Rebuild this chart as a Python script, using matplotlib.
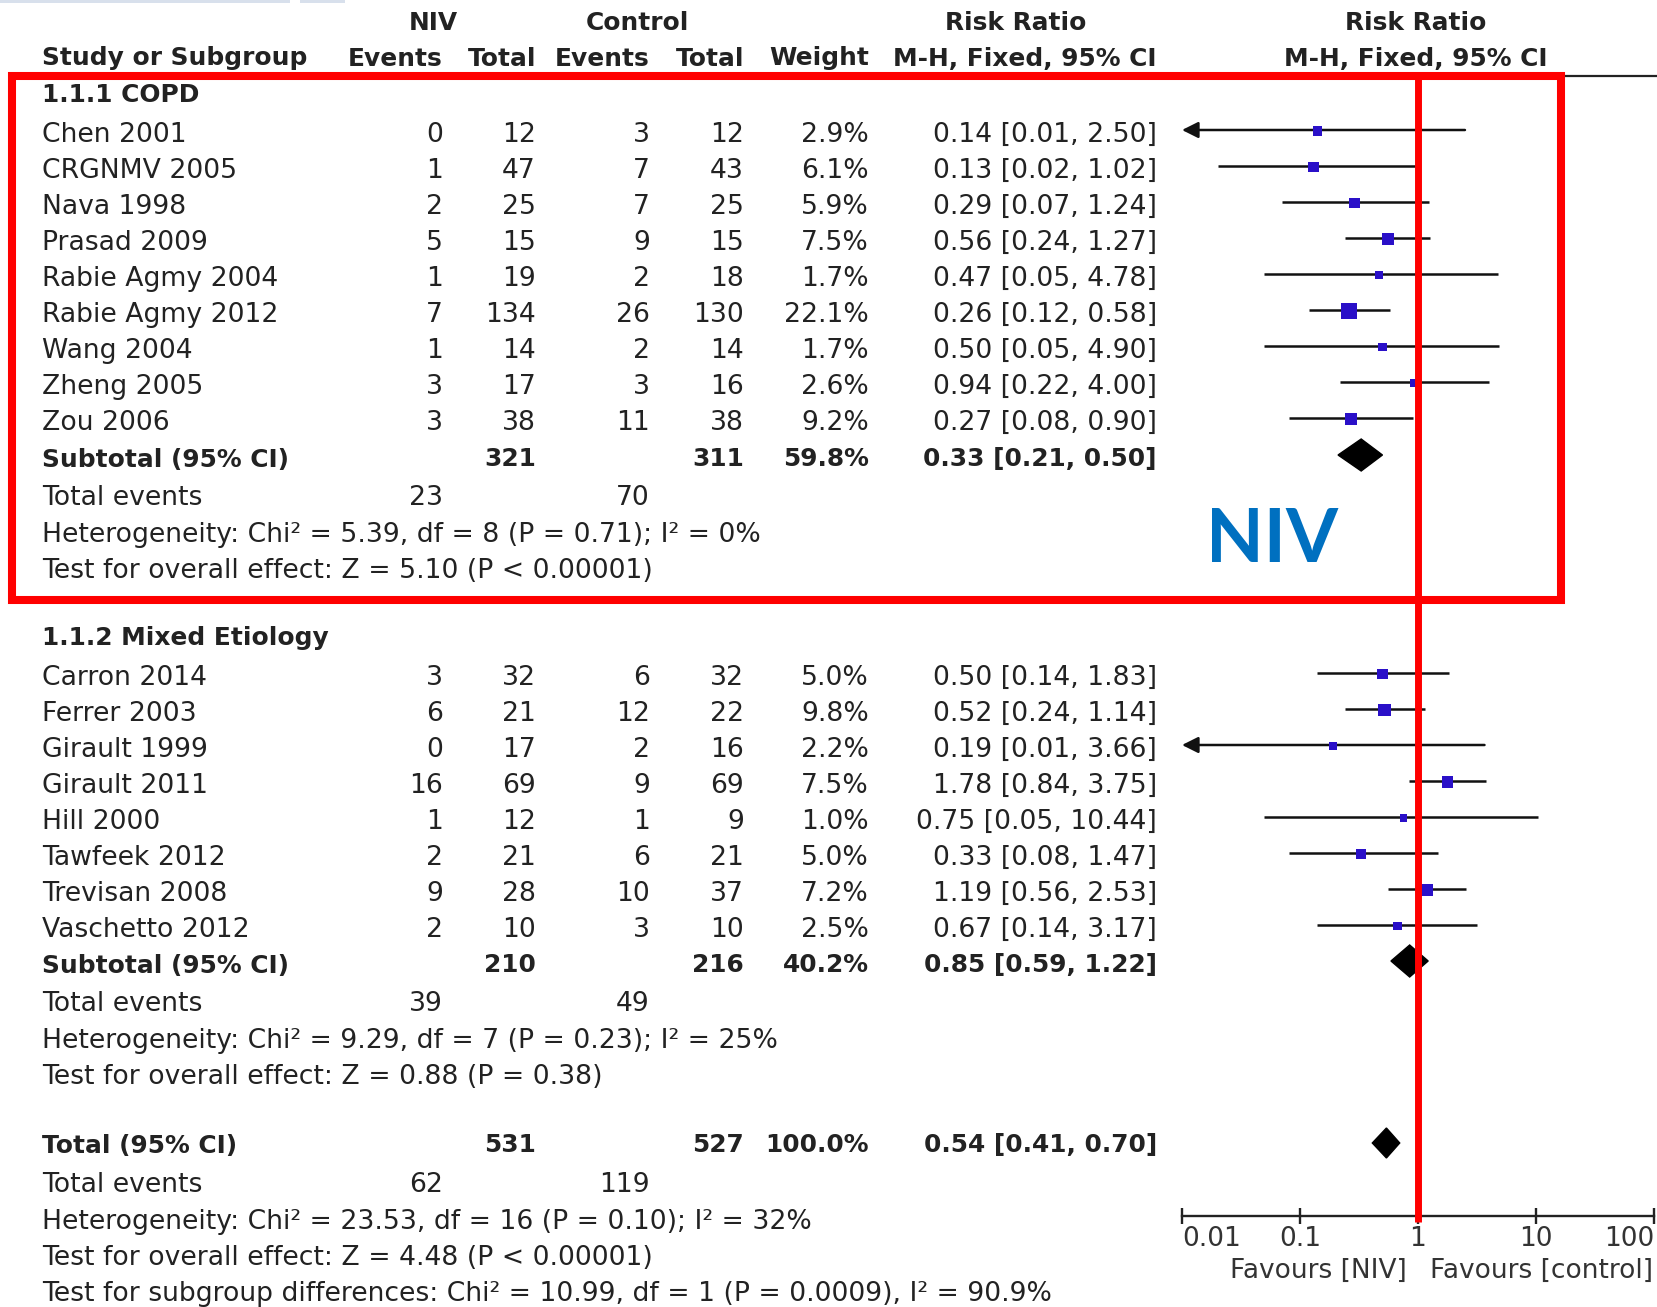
import numpy as np
import matplotlib
matplotlib.use("Agg")
import matplotlib.pyplot as plt
from matplotlib.patches import Polygon, Rectangle

plt.rcParams['font.family'] = ['DejaVu Sans']

# ---- data -------------------------------------------------------------
copd_study = ["Chen 2001", "CRGNMV 2005", "Nava 1998", "Prasad 2009",
              "Rabie Agmy 2004", "Rabie Agmy 2012", "Wang 2004", "Zheng 2005", "Zou 2006"]
copd_niv_ev = [0, 1, 2, 5, 1, 7, 1, 3, 3]
copd_niv_n = [12, 47, 25, 15, 19, 134, 14, 17, 38]
copd_ctl_ev = [3, 7, 7, 9, 2, 26, 2, 3, 11]
copd_ctl_n = [12, 43, 25, 15, 18, 130, 14, 16, 38]
copd_weight = [2.9, 6.1, 5.9, 7.5, 1.7, 22.1, 1.7, 2.6, 9.2]
copd_rr = [0.14, 0.13, 0.29, 0.56, 0.47, 0.26, 0.50, 0.94, 0.27]
copd_lo = [0.01, 0.02, 0.07, 0.24, 0.05, 0.12, 0.05, 0.22, 0.08]
copd_hi = [2.50, 1.02, 1.24, 1.27, 4.78, 0.58, 4.90, 4.00, 0.90]
copd_sub = dict(n1=321, n2=311, w=59.8, rr=0.33, lo=0.21, hi=0.50, e1=23, e2=70)
copd_het = "Heterogeneity: Chi\u00b2 = 5.39, df = 8 (P = 0.71); I\u00b2 = 0%"
copd_test = "Test for overall effect: Z = 5.10 (P < 0.00001)"

mix_study = ["Carron 2014", "Ferrer 2003", "Girault 1999", "Girault 2011",
             "Hill 2000", "Tawfeek 2012", "Trevisan 2008", "Vaschetto 2012"]
mix_niv_ev = [3, 6, 0, 16, 1, 2, 9, 2]
mix_niv_n = [32, 21, 17, 69, 12, 21, 28, 10]
mix_ctl_ev = [6, 12, 2, 9, 1, 6, 10, 3]
mix_ctl_n = [32, 22, 16, 69, 9, 21, 37, 10]
mix_weight = [5.0, 9.8, 2.2, 7.5, 1.0, 5.0, 7.2, 2.5]
mix_rr = [0.50, 0.52, 0.19, 1.78, 0.75, 0.33, 1.19, 0.67]
mix_lo = [0.14, 0.24, 0.01, 0.84, 0.05, 0.08, 0.56, 0.14]
mix_hi = [1.83, 1.14, 3.66, 3.75, 10.44, 1.47, 2.53, 3.17]
mix_sub = dict(n1=210, n2=216, w=40.2, rr=0.85, lo=0.59, hi=1.22, e1=39, e2=49)
mix_het = "Heterogeneity: Chi\u00b2 = 9.29, df = 7 (P = 0.23); I\u00b2 = 25%"
mix_test = "Test for overall effect: Z = 0.88 (P = 0.38)"

tot = dict(n1=531, n2=527, w=100.0, rr=0.54, lo=0.41, hi=0.70, e1=62, e2=119)
tot_het = "Heterogeneity: Chi\u00b2 = 23.53, df = 16 (P = 0.10); I\u00b2 = 32%"
tot_test = "Test for overall effect: Z = 4.48 (P < 0.00001)"
sub_test = "Test for subgroup differences: Chi\u00b2 = 10.99, df = 1 (P = 0.0009), I\u00b2 = 90.9%"

ticks = [0.01, 0.1, 1, 10, 100]
tick_labels = ["0.01", "0.1", "1", "10", "100"]

# ---- layout (pixels) ---------------------------------------------------
W, H = 1658, 1307
FS = 19.2      # regular text
FSB = 17.9     # bold text
TXT = '#222222'
SQ = '#2a10c8'
X_NAME, X_E1, X_N1, X_E2, X_N2, X_W, X_RR = 42, 443, 536, 650, 744, 869, 1157

fig = plt.figure(figsize=(W / 100, H / 100), dpi=100)
ax_t = fig.add_axes([0, 0, 1, 1], zorder=2)
ax_t.set_xlim(0, W)
ax_t.set_ylim(H, 0)
ax_t.axis('off')
ax_t.patch.set_visible(False)

ax_f = fig.add_axes([1182 / W, 0, 472 / W, 1], zorder=1)
ax_f.set_xscale('log')
ax_f.set_xlim(0.01, 100)
ax_f.set_ylim(H, 0)
ax_f.patch.set_visible(False)
for s in ['top', 'left', 'right']:
    ax_f.spines[s].set_visible(False)
ax_f.spines['bottom'].set_position(('data', 1216))
ax_f.spines['bottom'].set_linewidth(1.7)
ax_f.spines['bottom'].set_color('#222222')
ax_f.set_yticks([])
ax_f.set_xticks(ticks)
ax_f.set_xticklabels(tick_labels)
ax_f.minorticks_off()
ax_f.tick_params(axis='x', direction='inout', length=12, width=1.7, pad=1,
                 labelsize=19, labelcolor='#333333', color='#222222')
tl = ax_f.get_xticklabels()
tl[0].set_horizontalalignment('left')
tl[-1].set_horizontalalignment('right')


def put(x, y, s, ha='left', bold=False):
    ax_t.text(x, y + 2, s, ha=ha, va='center_baseline', fontsize=FSB if bold else FS,
              fontweight='bold' if bold else 'normal', color=TXT)


def diamond(y, rr, lo, hi, h):
    ax_f.add_patch(Polygon([(lo, y), (rr, y - h), (hi, y), (rr, y + h)],
                           closed=True, color='black', zorder=4, clip_on=False))


def group(y0, names, e1, n1, e2, n2, w, rr, lo, hi):
    ys = [y0 + 36 * i for i in range(len(names))]
    for y, nm, a, b, c, d, ww, r, l, h in zip(ys, names, e1, n1, e2, n2, w, rr, lo, hi):
        put(X_NAME, y, nm)
        put(X_E1, y, str(a), 'right')
        put(X_N1, y, str(b), 'right')
        put(X_E2, y, str(c), 'right')
        put(X_N2, y, str(d), 'right')
        put(X_W, y, f"{ww:.1f}%", 'right')
        put(X_RR, y, f"{r:.2f} [{l:.2f}, {h:.2f}]", 'right')
        if l <= 0.01:
            ax_f.annotate('', xy=(0.01, y), xytext=(h, y),
                          arrowprops=dict(arrowstyle='-|>,head_length=0.7,head_width=0.35',
                                          color='#111111', lw=1.8, shrinkA=0, shrinkB=0,
                                          mutation_scale=14),
                          annotation_clip=False)
        else:
            ax_f.plot([l, h], [y, y], color='#111111', lw=1.8, solid_capstyle='butt', zorder=2)
    side = [(5 + 2.4 * np.sqrt(v)) * 0.72 for v in w]
    ax_f.scatter(rr, [y + 1 for y in ys], s=[q ** 2 for q in side], marker='s',
                 color=SQ, linewidths=0, zorder=3)


def summary(y, label, d, het, test, foot_y):
    put(X_NAME, y, label, bold=True)
    put(X_N1, y, str(d['n1']), 'right', bold=True)
    put(X_N2, y, str(d['n2']), 'right', bold=True)
    put(X_W, y, f"{d['w']:.1f}%", 'right', bold=True)
    put(X_RR, y, f"{d['rr']:.2f} [{d['lo']:.2f}, {d['hi']:.2f}]", 'right', bold=True)
    diamond(y, d['rr'], d['lo'], d['hi'], 16)
    put(X_NAME, foot_y, "Total events")
    put(X_E1, foot_y, str(d['e1']), 'right')
    put(X_E2, foot_y, str(d['e2']), 'right')
    put(X_NAME, foot_y + 37, het)
    put(X_NAME, foot_y + 73, test)


# headers
put(433, 18, "NIV", 'center', bold=True)
put(637, 18, "Control", 'center', bold=True)
put(1016, 18, "Risk Ratio", 'center', bold=True)
put(1416, 18, "Risk Ratio", 'center', bold=True)
put(X_NAME, 54, "Study or Subgroup", bold=True)
put(X_E1, 54, "Events", 'right', bold=True)
put(X_N1, 54, "Total", 'right', bold=True)
put(X_E2, 54, "Events", 'right', bold=True)
put(X_N2, 54, "Total", 'right', bold=True)
put(X_W, 54, "Weight", 'right', bold=True)
put(X_RR, 54, "M-H, Fixed, 95% CI", 'right', bold=True)
put(1416, 54, "M-H, Fixed, 95% CI", 'center', bold=True)
ax_t.plot([40, W], [76, 76], color='#222222', lw=1.6)

# COPD subgroup
put(X_NAME, 90, "1.1.1 COPD", bold=True)
group(130, copd_study, copd_niv_ev, copd_niv_n, copd_ctl_ev, copd_ctl_n,
      copd_weight, copd_rr, copd_lo, copd_hi)
summary(455, "Subtotal (95% CI)", copd_sub, copd_het, copd_test, 493)

# mixed etiology subgroup
put(X_NAME, 634, "1.1.2 Mixed Etiology", bold=True)
group(673, mix_study, mix_niv_ev, mix_niv_n, mix_ctl_ev, mix_ctl_n,
      mix_weight, mix_rr, mix_lo, mix_hi)
summary(961, "Subtotal (95% CI)", mix_sub, mix_het, mix_test, 999)

# overall
put(X_NAME, 1141, "Total (95% CI)", bold=True)
put(X_N1, 1141, str(tot['n1']), 'right', bold=True)
put(X_N2, 1141, str(tot['n2']), 'right', bold=True)
put(X_W, 1141, f"{tot['w']:.1f}%", 'right', bold=True)
put(X_RR, 1141, f"{tot['rr']:.2f} [{tot['lo']:.2f}, {tot['hi']:.2f}]", 'right', bold=True)
diamond(1143, tot['rr'], tot['lo'], tot['hi'], 15)
put(X_NAME, 1180, "Total events")
put(X_E1, 1180, str(tot['e1']), 'right')
put(X_E2, 1180, str(tot['e2']), 'right')
put(X_NAME, 1217, tot_het)
put(X_NAME, 1253, tot_test)
put(X_NAME, 1289, sub_test)

# favours labels
ax_f.annotate("Favours [NIV]", xy=(1, 1268), xytext=(-11, 0), textcoords='offset pixels',
              ha='right', va='center_baseline', fontsize=19, color='#333333', annotation_clip=False)
ax_f.annotate("Favours [control]", xy=(1, 1268), xytext=(12, 0), textcoords='offset pixels',
              ha='left', va='center_baseline', fontsize=19, color='#333333', annotation_clip=False)

# red highlight
ax_f.plot([1, 1], [76, 1222], color='#ff0000', lw=5, solid_capstyle='butt', zorder=10, clip_on=False)
ax_t.add_patch(Rectangle((12, 76), 1549, 524, fill=False, edgecolor='#ff0000', lw=5.8, zorder=10))
ax_t.text(1272, 541, "NIV", ha='center', va='center', fontsize=54, fontweight='bold',
          color='#0070c0', family=['Lato', 'DejaVu Sans'])

# faint strip at the top edge
ax_t.add_patch(Rectangle((0, 0), 290, 3, color='#d8e0ec', lw=0))
ax_t.add_patch(Rectangle((300, 0), 45, 3, color='#d8e0ec', lw=0))

fig.savefig("out.png", dpi=100)
